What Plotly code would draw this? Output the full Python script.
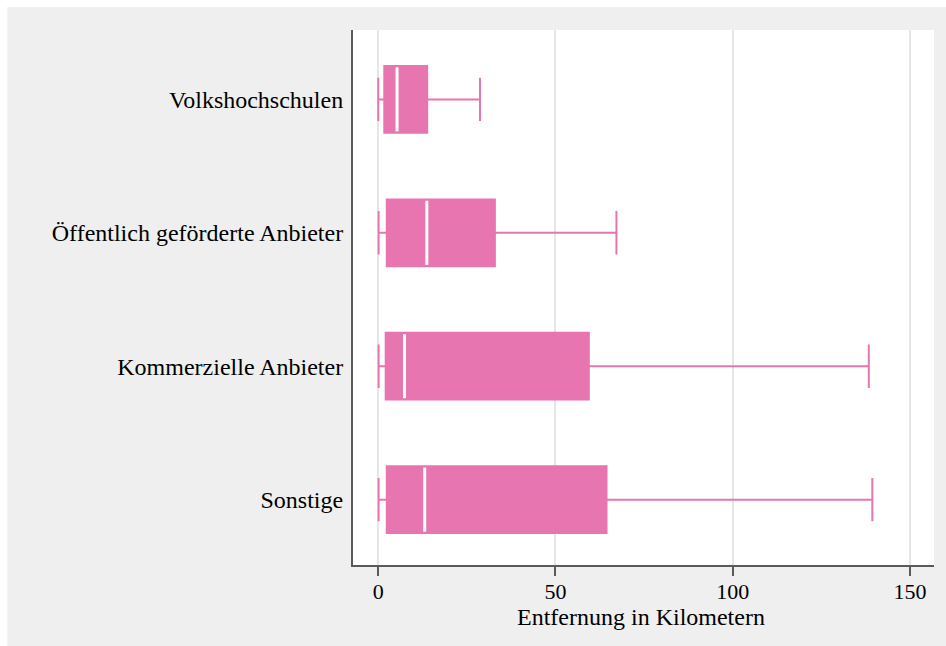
import plotly.graph_objects as go

# Distance to the course provider, by provider type (km)
categories = [
    "Volkshochschulen",
    "Öffentlich geförderte Anbieter",
    "Kommerzielle Anbieter",
    "Sonstige",
]
lower_whisker = [0.0, 0.1, 0.1, 0.1]
q1 = [1.7, 2.4, 2.1, 2.4]
median = [5.3, 13.7, 7.4, 13.1]
q3 = [13.8, 32.9, 59.4, 64.4]
upper_whisker = [28.7, 67.2, 138.4, 139.4]

x_ticks = [0, 50, 100, 150]
x_title = "Entfernung in Kilometern"

PINK = "#e775b0"
BG = "#efefef"
AXIS = "#5a5a5a"
FONT = "Liberation Serif"

W, H = 946, 646
ML, MR, MT, MB = 353, 11.5, 30, 81.3
PW, PH = W - ML - MR, H - MT - MB

BOX_W = 0.5

fig = go.Figure()
fig.add_trace(go.Box(
    y=categories,
    q1=q1,
    median=median,
    q3=q3,
    lowerfence=lower_whisker,
    upperfence=upper_whisker,
    orientation="h",
    width=BOX_W,
    whiskerwidth=0.65,
    fillcolor=PINK,
    line=dict(color=PINK, width=2),
    boxpoints=False,
    hoverinfo="skip",
    showlegend=False,
))


def px_to_paper_x(px):
    return (px - ML) / PW


def px_to_paper_y(py):
    return 1 - (py - MT) / PH


shapes = []
# white median bars drawn over the boxes
for i, m in enumerate(median):
    shapes.append(dict(
        type="line", xref="x", yref="y",
        x0=m, x1=m, y0=i - BOX_W / 2 + 0.01, y1=i + BOX_W / 2 - 0.01,
        line=dict(color="white", width=3), layer="above",
    ))

# thin white frame at the top and left edge of the page
shapes.append(dict(type="rect", xref="paper", yref="paper",
                   x0=px_to_paper_x(-5), x1=px_to_paper_x(W + 5),
                   y0=px_to_paper_y(7), y1=px_to_paper_y(-5),
                   fillcolor="white", line=dict(width=0), layer="below"))
shapes.append(dict(type="rect", xref="paper", yref="paper",
                   x0=px_to_paper_x(-5), x1=px_to_paper_x(7),
                   y0=px_to_paper_y(H + 5), y1=px_to_paper_y(-5),
                   fillcolor="white", line=dict(width=0), layer="below"))

fig.update_layout(
    width=W, height=H,
    margin=dict(l=ML, r=MR, t=MT, b=MB, pad=0),
    paper_bgcolor=BG,
    plot_bgcolor="white",
    font=dict(family=FONT, size=23, color="black"),
    shapes=shapes,
    annotations=[dict(
        text=x_title, xref="paper", yref="paper",
        x=px_to_paper_x(641), y=px_to_paper_y(617),
        xanchor="center", yanchor="middle", showarrow=False,
        font=dict(family=FONT, size=24, color="black"),
    )],
    xaxis=dict(
        range=[-7.13, 156.8],
        tickvals=x_ticks,
        ticktext=[str(v) for v in x_ticks],
        showgrid=True, gridcolor="#e6e6e6", gridwidth=2,
        zeroline=False,
        showline=True, linecolor=AXIS, linewidth=2,
        ticks="outside", ticklen=9, tickwidth=1.5, tickcolor=AXIS,
        ticklabelstandoff=-3,
        tickfont=dict(family=FONT, size=22),
        automargin=False,
    ),
    yaxis=dict(
        type="category",
        categoryorder="array", categoryarray=categories,
        range=[3.49, -0.52],
        showgrid=False, zeroline=False,
        showline=True, linecolor=AXIS, linewidth=2,
        ticks="", ticklabelstandoff=3,
        tickfont=dict(family=FONT, size=24),
        automargin=False,
    ),
)

fig.write_html("out.html")
